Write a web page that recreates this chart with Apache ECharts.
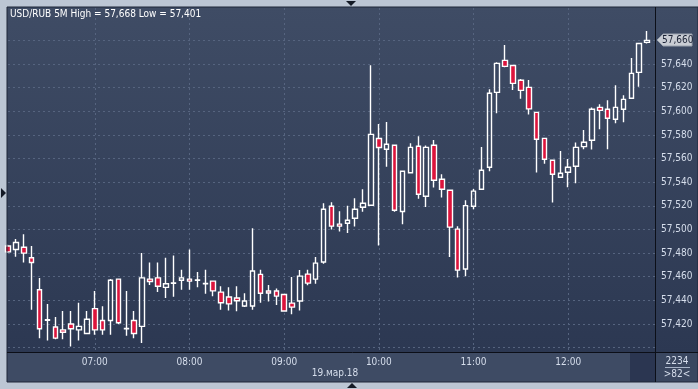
<!DOCTYPE html>
<html>
<head>
<meta charset="utf-8">
<script src="https://cdn.jsdelivr.net/npm/echarts@6/dist/echarts.min.js"></script>
<style>
  html, body { margin: 0; padding: 0; background: #bcc6d4; }
  #chart { width: 698px; height: 389px; }
</style>
</head>
<body>
<div id="chart"></div>
<script>
// 5-minute bars, 06:05 .. 12:50
const times = [
  "06:05", "06:10", "06:15", "06:20", "06:25", "06:30", "06:35", "06:40", "06:45", "06:50", "06:55",
  "07:00", "07:05", "07:10", "07:15", "07:20", "07:25", "07:30", "07:35", "07:40", "07:45", "07:50", "07:55",
  "08:00", "08:05", "08:10", "08:15", "08:20", "08:25", "08:30", "08:35", "08:40", "08:45", "08:50", "08:55",
  "09:00", "09:05", "09:10", "09:15", "09:20", "09:25", "09:30", "09:35", "09:40", "09:45", "09:50", "09:55",
  "10:00", "10:05", "10:10", "10:15", "10:20", "10:25", "10:30", "10:35", "10:40", "10:45", "10:50", "10:55",
  "11:00", "11:05", "11:10", "11:15", "11:20", "11:25", "11:30", "11:35", "11:40", "11:45", "11:50", "11:55",
  "12:00", "12:05", "12:10", "12:15", "12:20", "12:25", "12:30", "12:35", "12:40", "12:45", "12:50", "12:55"
];

const opens = [
  57.486, 57.483, 57.485, 57.476, 57.449, 57.4232, 57.4175, 57.415, 57.420, 57.415, 57.412,
  57.433, 57.423, 57.423, 57.458, 57.416, 57.423, 57.418, 57.458, 57.459, 57.451, 57.4545,
  57.457, 57.458, 57.457, 57.454, 57.4563, 57.447, 57.4428, 57.442, 57.4352, 57.4352, 57.462,
  57.4479, 57.4479, 57.445, 57.4377, 57.4394, 57.4622, 57.458, 57.4724, 57.5197, 57.5045, 57.5053,
  57.5095, 57.5188, 57.5205, 57.577, 57.5679, 57.5712, 57.5152, 57.548, 57.5704, 57.5281, 57.5712,
  57.5425, 57.5332, 57.5003, 57.4665, 57.5197, 57.534, 57.5526, 57.616, 57.6431, 57.6388, 57.6262,
  57.6202, 57.5991, 57.5771, 57.5586, 57.5442, 57.5484, 57.5535, 57.5701, 57.5755, 57.6033, 57.6017,
  57.5932, 57.6017, 57.611, 57.6329, 57.6583
];
const closes = [
  57.481, 57.489, 57.480, 57.472, 57.416, 57.4236, 57.408, 57.413, 57.416, 57.418, 57.424,
  57.415, 57.415, 57.457, 57.421, 57.4163, 57.412, 57.459, 57.456, 57.452, 57.454, 57.4548,
  57.459, 57.4563, 57.4572, 57.4543, 57.448, 57.438, 57.437, 57.4397, 57.4394, 57.4648, 57.446,
  57.4462, 57.4436, 57.431, 57.4343, 57.4605, 57.4546, 57.4715, 57.5171, 57.5028, 57.5028, 57.5078,
  57.5171, 57.5222, 57.5805, 57.5693, 57.5721, 57.5163, 57.5493, 57.5695, 57.5298, 57.5695, 57.5417,
  57.534, 57.502, 57.4656, 57.5202, 57.5324, 57.5501, 57.6152, 57.6405, 57.638, 57.6236, 57.6177,
  57.602, 57.5763, 57.5594, 57.5467, 57.5476, 57.5526, 57.5695, 57.5738, 57.6017, 57.6008, 57.5941,
  57.6033, 57.6101, 57.6321, 57.6574, 57.660
];
const lows = [
  57.480, 57.477, 57.472, 57.432, 57.408, 57.406, 57.407, 57.407, 57.401, 57.406, 57.412,
  57.411, 57.411, 57.411, 57.420, 57.410, 57.408, 57.404, 57.453, 57.447, 57.442, 57.443,
  57.449, 57.449, 57.451, 57.4456, 57.4434, 57.432, 57.4315, 57.4307, 57.4343, 57.432, 57.438,
  57.439, 57.436, 57.431, 57.4282, 57.4315, 57.4527, 57.454, 57.471, 57.500, 57.4983, 57.497,
  57.5025, 57.515, 57.520, 57.4864, 57.553, 57.515, 57.5045, 57.548, 57.526, 57.519, 57.5355,
  57.527, 57.4766, 57.4594, 57.4605, 57.5171, 57.534, 57.5493, 57.5983, 57.6372, 57.618, 57.6107,
  57.5972, 57.5481, 57.5557, 57.5228, 57.5442, 57.5357, 57.5391, 57.5679, 57.5676, 57.5848, 57.5679,
  57.5898, 57.5907, 57.611, 57.6208, 57.6574
];
const highs = [
  57.487, 57.492, 57.496, 57.486, 57.459, 57.437, 57.426, 57.431, 57.431, 57.438, 57.431,
  57.448, 57.435, 57.458, 57.458, 57.448, 57.431, 57.480, 57.472, 57.472, 57.476, 57.478,
  57.466, 57.483, 57.464, 57.466, 57.4563, 57.452, 57.451, 57.452, 57.446, 57.501, 57.466,
  57.453, 57.450, 57.445, 57.4597, 57.4656, 57.466, 57.4766, 57.5222, 57.523, 57.5155, 57.520,
  57.5264, 57.534, 57.639, 57.5893, 57.591, 57.5715, 57.5493, 57.573, 57.5788, 57.571, 57.5757,
  57.5467, 57.5332, 57.5028, 57.5248, 57.5343, 57.5698, 57.6186, 57.6414, 57.656, 57.6388, 57.6273,
  57.6264, 57.5991, 57.5771, 57.5586, 57.5664, 57.5597, 57.5735, 57.5842, 57.6033, 57.6059, 57.6093,
  57.622, 57.6135, 57.645, 57.6574, 57.668
];

const gridTicks = [57.40, 57.42, 57.44, 57.46, 57.48, 57.50, 57.52, 57.54, 57.56, 57.58, 57.60, 57.62, 57.64, 57.66];
const priceLabels = [57.42, 57.44, 57.46, 57.48, 57.50, 57.52, 57.54, 57.56, 57.58, 57.60, 57.62, 57.64];

const lastPrice = 57.660;
const titleText = "USD/RUB 5M High = 57,668 Low = 57,401";
const dateText = "19.мар.18";

const ohlc = opens.map((o, i) => [o, closes[i], lows[i], highs[i]]);
const fmt = (v) => v.toFixed(3).replace(".", ",");
const isHour = (idx, val) => val.endsWith(":00");

const chart = echarts.init(document.getElementById("chart"), null, { renderer: "canvas" });

const FONT = "'DejaVu Sans Condensed', 'DejaVu Sans', sans-serif";
const lastY = 40;

chart.setOption({
  animation: false,
  backgroundColor: "#bcc6d4",
  textStyle: { fontFamily: FONT },
  grid: { left: 8, top: 8, right: 43, bottom: 37 },
  xAxis: {
    type: "category",
    data: times,
    boundaryGap: false,
    axisLine: { show: false },
    axisTick: { show: false },
    axisLabel: {
      interval: isHour,
      color: "#d6deec",
      fontSize: 10,
      fontFamily: FONT,
      margin: 5
    },
    splitLine: {
      show: true,
      interval: isHour,
      lineStyle: { color: "#56647f", width: 1, type: [2, 3] }
    }
  },
  yAxis: {
    type: "value",
    position: "right",
    min: 57.3963,
    max: 57.6874,
    scale: true,
    axisLine: { show: false },
    axisTick: { show: false, customValues: gridTicks },
    axisLabel: {
      customValues: priceLabels,
      formatter: fmt,
      color: "#d6deec",
      fontSize: 10,
      fontFamily: FONT,
      margin: 6
    },
    splitLine: {
      show: true,
      lineStyle: { color: "#56647f", width: 1, type: [2, 3] }
    }
  },
  series: [
    {
      type: "candlestick",
      data: ohlc,
      barWidth: 5,
      clip: true,
      itemStyle: {
        color: "rgba(0,0,0,0)",
        color0: "#dc143c",
        borderColor: "#ffffff",
        borderColor0: "#ffffff",
        borderWidth: 1.4
      }
    }
  ],
  graphic: [
    // plot background
    {
      type: "rect", z: -10, silent: true,
      shape: { x: 7, y: 7, width: 691, height: 346 },
      style: {
        fill: new echarts.graphic.LinearGradient(0, 0, 0, 1, [
          { offset: 0, color: "#3f4c65" },
          { offset: 1, color: "#2c3852" }
        ])
      }
    },
    // bottom band
    {
      type: "rect", z: -10, silent: true,
      shape: { x: 7, y: 352, width: 691, height: 30 },
      style: { fill: "#3e4b64" }
    },
    {
      type: "rect", z: -9, silent: true,
      shape: { x: 630, y: 353, width: 25, height: 29 },
      style: { fill: "#2b3651" }
    },
    {
      type: "rect", z: -9, silent: true,
      shape: { x: 656, y: 353, width: 42, height: 29 },
      style: { fill: "#3a4760" }
    },
    // frame lines
    {
      type: "rect", z: 50, silent: true,
      shape: { x: 7, y: 7, width: 691, height: 375 },
      style: { fill: null, stroke: "#1e2638", lineWidth: 1 }
    },
    {
      type: "line", z: 50, silent: true,
      shape: { x1: 655.5, y1: 7, x2: 655.5, y2: 382 },
      style: { stroke: "#0c0f18", lineWidth: 1 }
    },
    {
      type: "line", z: 50, silent: true,
      shape: { x1: 7, y1: 352.5, x2: 698, y2: 352.5 },
      style: { stroke: "#0c0f18", lineWidth: 1 }
    },
    // title
    {
      type: "text", z: 60, silent: true,
      left: 10, top: 9,
      style: { text: titleText, fill: "#ffffff", font: "10px " + FONT }
    },
    // date label
    {
      type: "text", z: 60, silent: true,
      x: 335, y: 373,
      style: { text: dateText, fill: "#d6deec", font: "10px " + FONT, align: "center", verticalAlign: "middle" }
    },
    // bar count box
    {
      type: "text", z: 60, silent: true,
      x: 677, y: 361,
      style: { text: "2234", fill: "#d6deec", font: "10px " + FONT, align: "center", verticalAlign: "middle" }
    },
    {
      type: "line", z: 60, silent: true,
      shape: { x1: 665, y1: 367.5, x2: 690, y2: 367.5 },
      style: { stroke: "#a8b4c8", lineWidth: 1 }
    },
    {
      type: "text", z: 60, silent: true,
      x: 677, y: 374,
      style: { text: ">82<", fill: "#d6deec", font: "10px " + FONT, align: "center", verticalAlign: "middle" }
    },
    // last price tag
    {
      type: "polygon", z: 60, silent: true,
      shape: { points: [[657, lastY], [663, lastY - 6], [692, lastY - 6], [692, lastY + 6], [663, lastY + 6]] },
      style: { fill: "#c9cdd4", stroke: "#9aa2ae", lineWidth: 1 }
    },
    {
      type: "text", z: 61, silent: true,
      x: 662, y: lastY,
      style: { text: fmt(lastPrice), fill: "#1c2336", font: "10px " + FONT, verticalAlign: "middle" }
    },
    // frame markers
    {
      type: "polygon", z: 60, silent: true,
      shape: { points: [[346, 1], [356, 1], [351, 6]] },
      style: { fill: "#141a26" }
    },
    {
      type: "polygon", z: 60, silent: true,
      shape: { points: [[347, 388], [357, 388], [352, 383]] },
      style: { fill: "#141a26" }
    },
    {
      type: "polygon", z: 60, silent: true,
      shape: { points: [[1, 188], [1, 198], [6, 193]] },
      style: { fill: "#141a26" }
    }
  ]
});
</script>
</body>
</html>
